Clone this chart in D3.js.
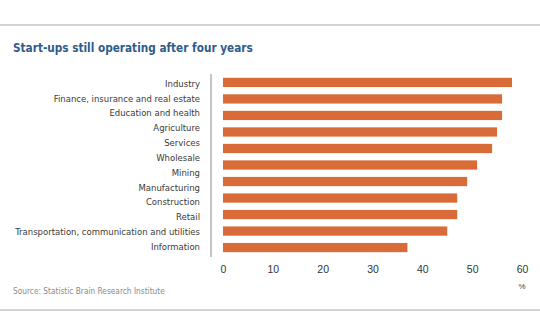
<!DOCTYPE html>
<html>
<head>
<meta charset="utf-8">
<script src="https://cdn.jsdelivr.net/npm/d3@7"></script>
<style>
  body { margin: 0; background: #fff; }
  svg { display: block; }
</style>
</head>
<body>
<svg id="chart" width="540" height="334"></svg>
<script>
// Chart data
const categories = [
    'Industry',
    'Finance, insurance and real estate',
    'Education and health',
    'Agriculture',
    'Services',
    'Wholesale',
    'Mining',
    'Manufacturing',
    'Construction',
    'Retail',
    'Transportation, communication and utilities',
    'Information'
];
// the source graphic shows 11 bars against 12 labels
const values = [58, 56, 56, 55, 54, 51, 49, 47, 47, 45, 37];
const xTicks = [0, 10, 20, 30, 40, 50, 60];

const svg = d3.select('#chart');
const W = 540, H = 334;
const font = '"Liberation Sans", Arial, sans-serif';
const narrow = '"Liberation Sans Narrow", "DejaVu Sans Condensed", "Liberation Sans", sans-serif';

// Fit a text element to a target pixel width by scaling its font size
function fitWidth(sel, target) {
    const node = sel.node();
    const fs = parseFloat(sel.attr('font-size'));
    const w = node.getComputedTextLength();
    sel.attr('font-size', (fs * target / w).toFixed(2));
}

// Rules
svg.append('line')
    .attr('x1', 0).attr('x2', W).attr('y1', 25).attr('y2', 25)
    .attr('stroke', '#c4c4c4').attr('stroke-width', 1.5);
svg.append('line')
    .attr('x1', 0).attr('x2', W).attr('y1', 310).attr('y2', 310)
    .attr('stroke', '#c4c4c4').attr('stroke-width', 1.5);

// Title
const title = svg.append('text')
    .attr('x', 13).attr('y', 52)
    .attr('font-family', narrow)
    .attr('font-weight', 'bold')
    .attr('font-size', 13)
    .attr('fill', '#2e5b8c')
    .text('Start-ups still operating after four years');
fitWidth(title, 240);

// Scales
const x = d3.scaleLinear().domain([0, 60]).range([223, 522]);
const yLabel = d3.scalePoint().domain(d3.range(categories.length)).range([83.5, 246.5]);
const yBar = d3.scaleBand().domain(d3.range(values.length))
    .range([74.5, 255.5]).paddingInner(0.44).paddingOuter(0.2);

// Category labels
const labels = svg.append('g')
    .attr('font-family', narrow)
    .attr('font-size', 10)
    .attr('fill', '#3a3a3a')
    .attr('text-anchor', 'end');

labels.selectAll('text')
    .data(categories)
    .enter()
    .append('text')
    .attr('x', 200)
    .attr('y', (d, i) => yLabel(i))
    .attr('dy', '0.35em')
    .text(d => d);

// scale label font so the longest one fits its slot
const longest = labels.selectAll('text').filter(d => d.startsWith('Transportation'));
const lw = longest.node().getComputedTextLength();
labels.attr('font-size', (10 * 185 / lw).toFixed(2));

// Bars
svg.append('g')
    .selectAll('rect')
    .data(values)
    .enter()
    .append('rect')
    .attr('x', x(0))
    .attr('y', (d, i) => yBar(i))
    .attr('width', d => x(d) - x(0))
    .attr('height', yBar.bandwidth())
    .attr('fill', '#d86b38');

// Vertical axis line
svg.append('line')
    .attr('x1', 211).attr('x2', 211)
    .attr('y1', 74).attr('y2', 257)
    .attr('stroke', '#b0b0b0').attr('stroke-width', 1.5);

// X axis tick labels
const xAxis = svg.append('g')
    .attr('transform', 'translate(0,266)')
    .call(d3.axisBottom(x).tickValues(xTicks).tickSize(0).tickPadding(0));
xAxis.select('.domain').remove();
xAxis.selectAll('text')
    .attr('font-family', font)
    .attr('font-size', 10.5)
    .attr('fill', '#333');

svg.append('text')
    .attr('x', x(60)).attr('y', 289)
    .attr('text-anchor', 'middle')
    .attr('font-family', font)
    .attr('font-size', 8)
    .attr('fill', '#444')
    .text('%');

// Source note
const source = svg.append('text')
    .attr('x', 13).attr('y', 294)
    .attr('font-family', narrow)
    .attr('font-size', 8)
    .attr('fill', '#8a8a8a')
    .text('Source: Statistic Brain Research Institute');
fitWidth(source, 152);
</script>
</body>
</html>
